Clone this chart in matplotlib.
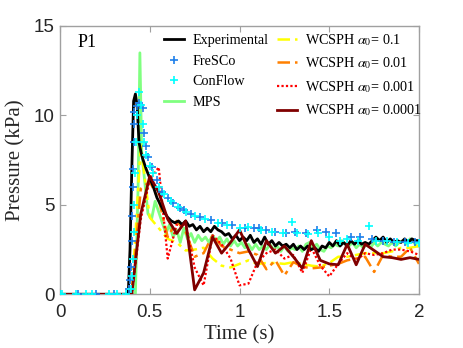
import matplotlib
matplotlib.use('Agg')
import matplotlib.pyplot as plt
import numpy as np

# ---- data ----
# experimental (black)
t_exp = [0, 0.38, 0.39, 0.40, 0.41, 0.42, 0.43, 0.44, 0.45, 0.46, 0.48, 0.50, 0.52, 0.54,
         0.56, 0.58, 0.60, 0.62, 0.64, 0.66, 0.68, 0.70, 0.72, 0.74, 0.76, 0.78, 0.80,
         0.82, 0.84, 0.86, 0.88, 0.90, 0.92, 0.94, 0.96, 0.98, 1.00, 1.02, 1.04, 1.06,
         1.08, 1.10, 1.12, 1.14, 1.16, 1.18, 1.20, 1.22, 1.24, 1.26, 1.28, 1.30, 1.32,
         1.34, 1.36, 1.38, 1.40, 1.42, 1.44, 1.46, 1.48, 1.50, 1.52, 1.54, 1.56, 1.58,
         1.60, 1.62, 1.64, 1.66, 1.68, 1.70, 1.72, 1.74, 1.76, 1.78, 1.80, 1.82, 1.84,
         1.86, 1.88, 1.90, 1.92, 1.94, 1.96, 1.98, 2.00]
p_exp = [0, 0, 2.5, 7.0, 10.8, 11.2, 10.5, 8.5, 8.0, 7.6, 7.0, 6.5, 6.0, 5.4,
         5.0, 4.6, 4.3, 4.1, 4.0, 4.1, 3.9, 4.1, 3.8, 3.9, 3.6, 3.8, 3.5,
         3.7, 3.5, 3.8, 3.6, 3.5, 3.3, 3.4, 3.1, 3.3, 3.0, 3.2, 3.0, 3.3,
         2.9, 3.1, 2.8, 3.2, 2.8, 3.0, 2.7, 2.9, 2.7, 2.8, 2.6, 2.8, 2.5,
         2.7, 2.5, 2.7, 2.5, 2.6, 2.4, 2.7, 2.6, 2.9, 2.7, 3.0, 2.7, 2.9,
         2.7, 3.0, 2.8, 3.0, 2.8, 2.9, 2.8, 3.0, 3.2, 3.0, 3.2, 2.9, 3.1,
         2.9, 3.0, 2.9, 3.1, 2.9, 3.1, 3.0, 3.0]

# FreSCo (blue +)
t_fresco = [0.0, 0.1, 0.2, 0.3, 0.385, 0.39, 0.395, 0.40, 0.40, 0.405, 0.405, 0.41, 0.41,
            0.415, 0.43, 0.44, 0.46, 0.47, 0.48, 0.49, 0.51, 0.54, 0.57, 0.60, 0.63,
            0.67, 0.69, 0.73, 0.78, 0.84, 0.90, 0.96, 1.03, 1.08, 1.11, 1.15, 1.20,
            1.26, 1.31, 1.37, 1.43, 1.48, 1.54, 1.62, 1.67, 1.74, 1.80, 1.86, 1.92, 1.98]
p_fresco = [0, 0, 0, 0, 0.3, 0.8, 1.5, 3.0, 4.4, 6.0, 7.0, 8.5, 9.5,
            10.2, 10.5, 10.7, 10.4, 9.0, 8.3, 7.7, 7.1, 6.4, 5.7, 5.4, 5.1,
            4.8, 4.7, 4.5, 4.3, 4.15, 3.97, 3.9, 3.7, 3.7, 3.7, 3.6, 3.5,
            3.4, 3.5, 3.4, 3.6, 3.5, 3.4, 3.2, 3.2, 3.1, 3.0, 2.95, 2.9, 2.9]

# ConFlow (cyan +)
t_conflow = [0.0, 0.01, 0.09, 0.145, 0.18, 0.275, 0.32, 0.37, 0.395, 0.40, 0.405, 0.41,
             0.415, 0.42, 0.425, 0.43, 0.44, 0.45, 0.46, 0.47, 0.48, 0.50, 0.52, 0.55,
             0.58, 0.62, 0.66, 0.70, 0.75, 0.81, 0.88, 0.93, 1.00, 1.05, 1.12, 1.18,
             1.24, 1.29, 1.32, 1.38, 1.44, 1.50, 1.56, 1.60, 1.66, 1.72, 1.76, 1.82,
             1.88, 1.94, 2.00]
p_conflow = [0, 0, 0, 0, 0, 0, 0, 0, 0.3, 1.0, 2.0, 3.5,
             5.0, 6.8, 8.5, 10.0, 11.3, 10.6, 9.5, 8.5, 7.8, 7.2, 6.8, 6.0,
             5.6, 5.2, 4.9, 4.6, 4.4, 4.2, 4.0, 3.9, 3.7, 3.75, 3.6, 3.5,
             3.45, 4.05, 3.4, 3.35, 3.4, 3.2, 3.0, 3.1, 3.0, 3.8, 3.0, 3.0,
             2.9, 2.85, 2.85]

# MPS (green)
t_mps = [0, 0.42, 0.435, 0.445, 0.455, 0.47, 0.49, 0.51, 0.53, 0.55, 0.57, 0.59, 0.61,
         0.63, 0.65, 0.67, 0.69, 0.71, 0.73, 0.75, 0.77, 0.79, 0.81, 0.83, 0.85, 0.87,
         0.89, 0.91, 0.93, 0.95, 0.97, 0.99, 1.01, 1.03, 1.05, 1.07, 1.09, 1.11, 1.13,
         1.15, 1.17, 1.19, 1.21, 1.23, 1.25, 1.27, 1.29, 1.31, 1.33, 1.35, 1.37, 1.39,
         1.41, 1.43, 1.45, 1.47, 1.49, 1.51, 1.53, 1.55, 1.57, 1.59, 1.61, 1.63, 1.65,
         1.67, 1.69, 1.71, 1.73, 1.75, 1.77, 1.79, 1.81, 1.83, 1.85, 1.87, 1.89, 1.91,
         1.93, 1.95, 1.97, 1.99, 2.00]
p_mps = [0, 0, 6.0, 13.5, 8.0, 6.5, 4.5, 4.2, 5.2, 4.6, 4.0, 3.4, 3.9,
         3.2, 3.6, 2.9, 3.7, 3.1, 3.4, 2.9, 3.3, 3.0, 3.2, 2.9, 3.3, 3.0,
         3.2, 2.8, 3.1, 2.7, 3.0, 2.7, 2.9, 2.6, 2.8, 2.5, 2.8, 2.5, 2.7,
         2.5, 2.8, 2.5, 2.7, 2.4, 2.7, 2.4, 2.6, 2.5, 2.7, 2.4, 2.8, 2.9,
         2.6, 2.8, 2.5, 2.4, 2.7, 2.6, 2.8, 2.7, 3.0, 2.8, 2.7, 2.9, 2.6,
         2.8, 2.6, 2.8, 2.6, 2.9, 2.7, 2.9, 2.8, 2.7, 2.9, 2.7, 2.9, 3.0,
         2.8, 3.1, 2.9, 2.7, 2.7]

# WCSPH runs, output every 0.05 s
t_sph = [0.00, 0.05, 0.10, 0.15, 0.20, 0.25, 0.30, 0.35, 0.40, 0.45, 0.50, 0.55, 0.60,
         0.65, 0.70, 0.75, 0.80, 0.85, 0.90, 0.95, 1.00, 1.05, 1.10, 1.15, 1.20, 1.25,
         1.30, 1.35, 1.40, 1.45, 1.50, 1.55, 1.60, 1.65, 1.70, 1.75, 1.80, 1.85, 1.90,
         1.95, 2.00]
p_a1 = [0, 0, 0, 0, 0, 0, 0, 0, 0, 8.3, 4.3, 3.7, 3.1,
        2.9, 2.45, 2.5, 2.6, 2.0, 1.6, 1.5, 1.7, 1.9, 1.7, 1.75, 1.75, 1.7,
        1.8, 1.7, 1.6, 1.55, 1.75, 2.1, 2.1, 2.2, 2.3, 2.3, 2.3, 2.4, 2.6,
        2.6, 2.7]
p_a2 = [0, 0, 0, 0, 0, 0, 0, 0, 0, 5.9, 6.3, 5.3, 3.2,
        4.1, 3.5, 2.1, 2.3, 3.3, 2.7, 2.5, 2.3, 2.4, 2.2, 1.4, 1.9, 1.05,
        1.8, 1.55, 1.45, 1.5, 1.6, 1.7, 1.9, 2.0, 2.1, 1.25, 2.2, 2.1, 2.1,
        2.6, 1.7]
p_a3 = [0, 0, 0, 0, 0, 0, 0, 0, 0, 4.2, 6.4, 7.1, 2.0,
        3.9, 3.9, 1.5, 0.5, 3.3, 2.8, 2.0, 0.5, 0.6, 1.8, 2.3, 2.5, 2.0,
        2.2, 1.2, 2.6, 1.6, 1.0, 1.7, 2.3, 1.9, 2.3, 2.2, 2.3, 2.5, 2.5,
        2.4, 2.2]
p_a4 = [0, 0, 0, 0, 0, 0, 0, 0, 0, 4.5, 6.6, 5.7, 4.2,
        3.4, 4.1, 0.25, 1.2, 3.2, 2.3, 2.9, 3.6, 2.5, 1.55, 3.0, 2.3, 2.7,
        2.1, 1.45, 3.0, 1.9, 1.7, 1.65, 2.8, 1.65, 2.8, 2.45, 2.1, 2.05, 1.95,
        2.05, 1.95]

plt.rcParams['font.family'] = ['Liberation Serif', 'DejaVu Serif']
plt.rcParams['mathtext.fontset'] = 'stix'

fig = plt.figure(figsize=(4.63, 3.48), dpi=100)
ax = fig.add_axes([0.1296, 0.1543, 0.7754, 0.771])

ax.plot(t_exp, p_exp, color='black', lw=2.0, label='Experimental', zorder=3)
ax.plot(t_fresco, p_fresco, ls='none', marker='+', ms=6, mew=1.2, color='#1E7FEA',
        label='FreSCo', zorder=4)
ax.plot(t_conflow, p_conflow, ls='none', marker='+', ms=6, mew=1.2, color='#00FFFF',
        label='ConFlow', zorder=4)
ax.plot(t_mps, p_mps, color='#80FF80', lw=2.0, label='MPS', zorder=2)
ax.plot(t_sph, p_a1, color='#FFFF00', lw=1.8, ls=(0, (5, 2, 1.5, 2)),
        label=r'WCSPH $\alpha_0$= 0.1', zorder=2)
ax.plot(t_sph, p_a2, color='#FF8000', lw=1.8, ls=(0, (5, 2, 1.5, 2)),
        label=r'WCSPH $\alpha_0$= 0.01', zorder=2)
ax.plot(t_sph, p_a3, color='#FF0000', lw=1.6, ls=(0, (1, 1)),
        label=r'WCSPH $\alpha_0$= 0.001', zorder=2)
ax.plot(t_sph, p_a4, color='#800000', lw=2.0, label=r'WCSPH $\alpha_0$= 0.0001', zorder=3)

ax.set_xlim(0, 2)
ax.set_ylim(0, 15)
ax.set_xticks([0, 0.5, 1, 1.5, 2])
ax.set_xticklabels(['0', '0.5', '1', '1.5', '2'])
ax.set_yticks([0, 5, 10, 15])
ax.tick_params(direction='in', top=True, right=True, length=4, color='#A0A0A0',
               labelsize=13.5, labelcolor='#262626')
ax.tick_params(axis='x', pad=7)
ax.tick_params(axis='y', pad=4)
for lab in ax.get_xticklabels() + ax.get_yticklabels():
    lab.set_fontfamily('Liberation Sans')
for s in ax.spines.values():
    s.set_color('#A0A0A0')
    s.set_linewidth(1.0)

ax.set_xlabel('Time (s)', fontsize=15, color='#262626', labelpad=3)
ax.set_ylabel('Pressure (kPa)', fontsize=15, color='#262626', labelpad=6)
ax.text(0.05, 0.94, 'P1', transform=ax.transAxes, fontsize=13, va='center', ha='left')

ax.legend(ncol=2, loc='upper left', bbox_to_anchor=(0.343, 0.925), bbox_transform=fig.transFigure,
          frameon=False, fontsize=10.2, handlelength=1.4, handletextpad=0.55,
          columnspacing=0.65, labelspacing=0.55, borderaxespad=0)

fig.savefig('out.png', dpi=100)
